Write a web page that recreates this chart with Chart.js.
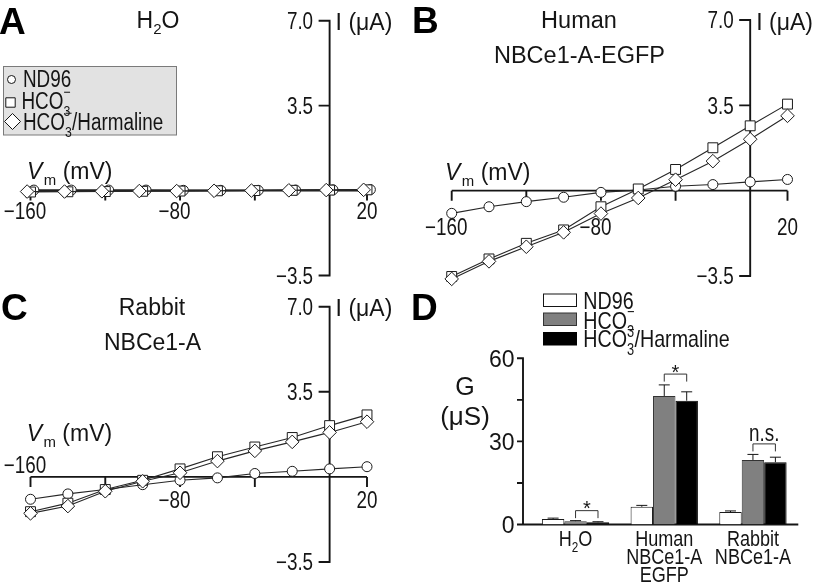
<!DOCTYPE html>
<html><head><meta charset="utf-8">
<script src="https://cdn.jsdelivr.net/npm/chart.js@4.4.1/dist/chart.umd.min.js"></script>
<style>
html,body{margin:0;padding:0;background:#fff;}
body{width:815px;height:584px;position:relative;overflow:hidden;}
canvas{position:absolute;}
</style></head><body>
<canvas id="cA" width="410" height="290" style="left:0;top:0"></canvas>
<canvas id="cB" width="405" height="290" style="left:410px;top:0"></canvas>
<canvas id="cC" width="410" height="294" style="left:0;top:290px"></canvas>
<canvas id="cD" width="405" height="294" style="left:410px;top:290px"></canvas>
<script>
// ---------------- DATA ----------------
const voltages = [-160,-140,-120,-100,-80,-60,-40,-20,0,20];          // mV
// panel A: measured voltages of the markers are slightly offset
const A_voltsNd96 = [-158.2,-138.2,-118.2,-98.2,-78.2,-58.2,-38.2,-18.2,1.8,21.8];
const A_voltsHarm = [-161.8,-141.8,-121.8,-101.8,-81.8,-61.8,-41.8,-21.8,-1.8,18.2];
const A_nd96 = [0.02,0.02,0.02,0.02,0.01,0.01,0.01,0.02,0.03,0.04];   // μA
const A_hco3 = [-0.06,-0.05,-0.04,-0.03,-0.02,-0.01,0.0,0.01,0.02,0.03];
const A_harm = [-0.04,-0.04,-0.03,-0.02,-0.02,-0.01,0.0,0.01,0.02,0.03];

const B_nd96 = [-0.93,-0.66,-0.45,-0.27,-0.07,0.03,0.18,0.25,0.36,0.46];
const B_hco3 = [-3.52,-2.80,-2.16,-1.61,-0.66,0.07,0.87,1.76,2.66,3.55];
const B_harm = [-3.62,-2.90,-2.30,-1.71,-0.94,-0.30,0.45,1.21,2.11,3.07];

const C_nd96 = [-0.92,-0.70,-0.52,-0.32,-0.14,-0.04,0.14,0.23,0.33,0.42];
const C_hco3 = [-1.43,-1.08,-0.52,-0.14,0.33,0.83,1.23,1.62,2.11,2.55];
const C_harm = [-1.50,-1.20,-0.59,-0.18,0.17,0.65,1.07,1.44,1.83,2.27];

const ivXTicks = [-160,-120,-80,-40,0,20];
const ivXTickLabels = {'-160':'−160','-80':'−80','20':'20'};
const ivYTicks = [7.0,3.5,-3.5];
const ivYTickLabels = ['7.0','3.5','−3.5'];

const D_categories = [['H2O'],['Human','NBCe1-A','EGFP'],['Rabbit','NBCe1-A']];
const D_nd96 = [2.0, 6.4, 4.5];          // μS
const D_hco3 = [1.2, 46.4, 23.3];
const D_harm = [0.8, 44.7, 22.5];
const D_nd96Err = [0.3, 0.5, 0.4];
const D_hco3Err = [0.2, 4.0, 2.0];
const D_harmErr = [0.2, 3.2, 1.8];
const D_sigLabels = ['*','*','n.s.'];
const D_sigLevel = [5.0, 54.3, 29.1];   // bracket level, μS
const D_yTicks = [0,15,30,45,60];
const D_yTickLabels = {0:'0',30:'30',60:'60'};

// ---------------- TEXT HELPERS ----------------
const INK = '#151515';
function hasFont(name){
  const c = document.createElement('canvas').getContext('2d');
  const s = 'mmmmmmmmmmlli1234567890WQ';
  let diff = false;
  for (const fb of ['monospace','serif']) {
    c.font = '40px ' + fb; const a = c.measureText(s).width;
    c.font = '40px "' + name + '", ' + fb; const b = c.measureText(s).width;
    if (Math.abs(a-b) > 0.5) diff = true;
  }
  return diff;
}
const HAS_NARROW = hasFont('Liberation Sans Narrow');
function fam(n){ return (n && HAS_NARROW) ? '"Liberation Sans Narrow"' : '"Liberation Sans", Arial, Helvetica, sans-serif'; }
function sxOf(n){ return (n && !HAS_NARROW) ? 0.82 : 1; }
function F(size, o){ return (o.i?'italic ':'') + (o.b?'bold ':'') + size + 'px ' + fam(o.n); }
function T(str){ return [{t:str}]; }
const SEG_H2O = [{t:'H'},{t:'2',s:'sub'},{t:'O'}];
const SEG_HCO3 = [{t:'HCO'},{t:['3','−'],s:'stack'}];
const SEG_HCO3H = [{t:'HCO'},{t:['3','−'],s:'stack'},{t:'/Harmaline'}];
const SEG_VM = [{t:'V',i:true},{t:'m',s:'sub'},{t:' (mV)'}];

function segWidths(ctx, segs, size, n, bold){
  const ss = size*0.65;
  return segs.map(sg=>{
    if(!sg.s){ ctx.font = F(size,{n,i:sg.i,b:bold}); return ctx.measureText(sg.t).width + (sg.i?1.5:0); }
    ctx.font = F(ss,{n});
    if(sg.s==='stack') return Math.max(ctx.measureText(sg.t[0]).width, ctx.measureText(sg.t[1]).width);
    return ctx.measureText(sg.t).width;
  });
}
function measureRich(ctx, segs, o){
  ctx.save();
  const w = segWidths(ctx, segs, o.size, !!o.narrow, o.bold).reduce((a,b)=>a+b,0);
  ctx.restore();
  return w * sxOf(!!o.narrow);
}
function drawRich(ctx, segs, x, y, o){
  const size = o.size, n = !!o.narrow, ss = size*0.65;
  ctx.save();
  ctx.translate(x,y); ctx.scale(sxOf(n),1);
  ctx.fillStyle = o.color || INK; ctx.textBaseline = 'alphabetic'; ctx.textAlign = 'left';
  const widths = segWidths(ctx, segs, size, n, o.bold);
  const W = widths.reduce((a,b)=>a+b,0);
  let cx = o.align==='center' ? -W/2 : (o.align==='right' ? -W : 0);
  const base = size*0.36;
  segs.forEach((sg,k)=>{
    if(!sg.s){ ctx.font = F(size,{n,i:sg.i,b:o.bold}); ctx.fillText(sg.t, cx, base); }
    else {
      ctx.font = F(ss,{n});
      if(sg.s==='sub') ctx.fillText(sg.t, cx, base + size*0.27);
      else if(sg.s==='sup') ctx.fillText(sg.t, cx, base - size*0.45);
      else { ctx.fillText(sg.t[0], cx, base + size*0.33); ctx.fillText(sg.t[1], cx, base - size*0.5); }
    }
    cx += widths[k];
  });
  ctx.restore();
}

// ---------------- IV PANELS ----------------
function ivPlugin(cfg){
  return {
    id: 'iv' + cfg.letter,
    beforeDatasetsDraw(chart){
      const ctx = chart.ctx, x = chart.scales.x, y = chart.scales.y;
      const x0 = x.getPixelForValue(0), y0 = y.getPixelForValue(0);
      ctx.save();
      ctx.strokeStyle = INK; ctx.lineWidth = 1.9;
      ctx.beginPath();
      ctx.moveTo(x.getPixelForValue(-160), y0); ctx.lineTo(x.getPixelForValue(20), y0);
      ivXTicks.forEach(v=>{ const p = x.getPixelForValue(v); ctx.moveTo(p, y0); ctx.lineTo(p, y0+10); });
      ctx.moveTo(x0, y.getPixelForValue(7)); ctx.lineTo(x0, y.getPixelForValue(-3.5));
      ivYTicks.forEach(v=>{ const p = y.getPixelForValue(v); ctx.moveTo(x0+0.9, p); ctx.lineTo(x0-11, p); });
      ctx.stroke();
      ctx.restore();
    },
    afterDraw(chart){
      const ctx = chart.ctx, x = chart.scales.x, y = chart.scales.y;
      const x0 = x.getPixelForValue(0), y0 = y.getPixelForValue(0);
      const tf = {size:23, narrow:true};
      ivYTicks.forEach((v,k)=>{
        drawRich(ctx, T(ivYTickLabels[k]), x0-16.5, y.getPixelForValue(v), Object.assign({align:'right'},tf));
      });
      drawRich(ctx, T('I (μA)'), x0+6, y.getPixelForValue(7)+1.5, {size:23, align:'left'});
      Object.keys(ivXTickLabels).forEach(key=>{
        const v = +key, lab = ivXTickLabels[key];
        const neg = lab.startsWith('−');
        const dW = measureRich(ctx, T(neg?lab.slice(1):lab), tf);
        const mW = neg ? measureRich(ctx, T('−'), tf) : 0;
        const px = x.getPixelForValue(v);
        const dy = (v===-160 && cfg.above160!==undefined) ? cfg.above160 : cfg.xLabDy;
        drawRich(ctx, T(lab), px - dW/2 - mW, y0 + dy, Object.assign({align:'left'},tf));
      });
      drawRich(ctx, SEG_VM, cfg.vm[0], cfg.vm[1], {size:23, align:'left'});
      cfg.titles.forEach(t=> drawRich(ctx, t.segs, t.x, t.y, {size:t.size||23, align:'center'}));
      drawRich(ctx, T(cfg.letter), cfg.letterPos[0], cfg.letterPos[1], {size:37, bold:true, align:'left', color:'#000'});
      if (cfg.legend) drawLegendA(ctx);
    }
  };
}
function drawMarker(ctx, kind, cx, cy, r){
  ctx.save();
  ctx.fillStyle = '#fff'; ctx.strokeStyle = INK; ctx.lineWidth = 1;
  ctx.beginPath();
  if (kind==='circle') ctx.arc(cx, cy, r, 0, Math.PI*2);
  else if (kind==='rect') ctx.rect(cx-r, cy-r, 2*r, 2*r);
  else { ctx.moveTo(cx-r, cy); ctx.lineTo(cx, cy-r); ctx.lineTo(cx+r, cy); ctx.lineTo(cx, cy+r); ctx.closePath(); }
  ctx.fill(); ctx.stroke();
  ctx.restore();
}
function drawLegendA(ctx){
  ctx.save();
  ctx.fillStyle = '#e2e2e2'; ctx.strokeStyle = '#7a7a7a'; ctx.lineWidth = 1;
  ctx.fillRect(3.5, 66.5, 173, 68.5); ctx.strokeRect(3.5, 66.5, 173, 68.5);
  ctx.restore();
  drawMarker(ctx, 'circle', 11.5, 79.5, 4);
  drawMarker(ctx, 'rect', 10.5, 102.5, 4.7);
  drawMarker(ctx, 'diamond', 12.5, 121.5, 8);
  const o = {size:23, narrow:true, align:'left'};
  drawRich(ctx, T('ND96'), 23, 78.5, o);
  drawRich(ctx, SEG_HCO3, 21.5, 100.5, o);
  drawRich(ctx, SEG_HCO3H, 23, 121.5, o);
}
function ivChart(id, xsNd, xsHco, xsHarm, nd, hco, harm, cfg){
  const common = {showLine:true, borderColor:'#262626', borderWidth:1.1, pointBackgroundColor:'#fff',
    pointBorderColor:'#1a1a1a', pointBorderWidth:1, clip:false, tension:0, fill:false};
  return new Chart(document.getElementById(id), {
    type: 'scatter',
    data: { datasets: [
      Object.assign({label:'HCO3−/Harmaline', data: xsHarm.map((v,i)=>({x:v, y:harm[i]})), pointStyle:'rectRot', pointRadius:6.8}, common),
      Object.assign({label:'HCO3−', data: xsHco.map((v,i)=>({x:v, y:hco[i]})), pointStyle:'rect', pointRadius:7}, common),
      Object.assign({label:'ND96', data: xsNd.map((v,i)=>({x:v, y:nd[i]})), pointStyle:'circle', pointRadius:5}, common)
    ]},
    options: {
      responsive:false, animation:false, events:[],
      layout:{padding:cfg.pad},
      scales:{ x:{type:'linear', min:-160, max:20, display:false}, y:{type:'linear', min:-3.5, max:7, display:false} },
      plugins:{ legend:{display:false}, tooltip:{enabled:false} }
    },
    plugins:[ivPlugin(cfg)]
  });
}

ivChart('cA', A_voltsNd96, voltages, A_voltsHarm, A_nd96, A_hco3, A_harm, {
  letter:'A', letterPos:[-1,21], pad:{left:30.5,right:43,top:20.7,bottom:14.5},
  titles:[{segs:SEG_H2O, x:158, y:20}], vm:[27,171], xLabDy:20, legend:true
});
ivChart('cB', voltages, voltages, voltages, B_nd96, B_hco3, B_harm, {
  letter:'B', letterPos:[2,20], pad:{left:41.7,right:27.5,top:20,bottom:14},
  titles:[{segs:T('Human'), x:169, y:20, size:23.5},{segs:T('NBCe1-A-EGFP'), x:169.5, y:55, size:23.5}],
  vm:[35,172], xLabDy:36
});
ivChart('cC', voltages, voltages, voltages, C_nd96, C_hco3, C_harm, {
  letter:'C', letterPos:[1,17], pad:{left:30.5,right:43,top:16.7,bottom:22},
  titles:[{segs:T('Rabbit'), x:152, y:17},{segs:T('NBCe1-A'), x:152.5, y:52}],
  vm:[26.7,143], xLabDy:23, above160:-12
});

// ---------------- BAR PANEL D ----------------
const dPlugin = {
  id:'panelD',
  beforeDatasetsDraw(chart){
    const ctx = chart.ctx, y = chart.scales.y, a = chart.chartArea;
    const ax = a.left - 8.2, y0 = y.getPixelForValue(0);
    ctx.save(); ctx.strokeStyle = INK; ctx.lineWidth = 1.9;
    ctx.beginPath();
    ctx.moveTo(ax, y.getPixelForValue(60)); ctx.lineTo(ax, y0);
    D_yTicks.forEach(v=>{ const p = y.getPixelForValue(v); ctx.moveTo(ax+0.9, p); ctx.lineTo(ax-6, p); });
    ctx.moveTo(ax, y0); ctx.lineTo(a.right+1, y0);
    ctx.stroke(); ctx.restore();
  },
  afterDatasetsDraw(chart){
    const ctx = chart.ctx, y = chart.scales.y;
    const vals = [D_nd96, D_hco3, D_harm], errs = [D_nd96Err, D_hco3Err, D_harmErr];
    ctx.save(); ctx.strokeStyle = INK; ctx.lineWidth = 1;
    vals.forEach((arr,d)=>{
      const meta = chart.getDatasetMeta(d);
      arr.forEach((v,i)=>{
        const bx = meta.data[i].x, top = y.getPixelForValue(v), et = y.getPixelForValue(v+errs[d][i]);
        ctx.beginPath(); ctx.moveTo(bx, top); ctx.lineTo(bx, et);
        ctx.moveTo(bx-5.5, et); ctx.lineTo(bx+5.5, et); ctx.stroke();
      });
    });
    const m1 = chart.getDatasetMeta(1), m2 = chart.getDatasetMeta(2);
    D_sigLevel.forEach((lv,i)=>{
      const g = m1.data[i].x, b = m2.data[i].x, yb = y.getPixelForValue(lv);
      ctx.strokeStyle = '#333';
      ctx.beginPath(); ctx.moveTo(g, yb+7.5); ctx.lineTo(g, yb); ctx.lineTo(b, yb); ctx.lineTo(b, yb+7.5); ctx.stroke();
      const lab = D_sigLabels[i];
      if (lab==='*') drawRich(ctx, T('*'), (g+b)/2, yb-7+0.215*20, {size:20, align:'center'});
      else drawRich(ctx, T(lab), (g+b)/2, yb-11.5, {size:23, narrow:true, align:'center'});
    });
    ctx.restore();
  },
  afterDraw(chart){
    const ctx = chart.ctx, y = chart.scales.y, a = chart.chartArea;
    const ax = a.left - 8.2, y0 = y.getPixelForValue(0);
    Object.keys(D_yTickLabels).forEach(k=>{
      drawRich(ctx, T(D_yTickLabels[k]), ax-8.5, y.getPixelForValue(+k), {size:23, align:'right'});
    });
    const m1 = chart.getDatasetMeta(1);
    D_categories.forEach((lines,i)=>{
      const cx = m1.data[i].x;
      lines.forEach((ln,j)=>{
        const segs = ln==='H2O' ? SEG_H2O : T(ln);
        drawRich(ctx, segs, cx, y0 + 14 + j*17.6, {size:22, narrow:true, align:'center'});
      });
    });
    drawRich(ctx, T('G'), 55, 95.5, {size:25, align:'center'});
    drawRich(ctx, T('(μS)'), 55, 126, {size:26, align:'center'});
    drawRich(ctx, T('D'), 1, 17, {size:37, bold:true, align:'left', color:'#000'});
    const sw = [['#fff', INK], ['#808080', '#333'], ['#000', '#000']];
    const ly = [4, 23, 42.5];
    ctx.save(); ctx.lineWidth = 1;
    sw.forEach((c,k)=>{ ctx.fillStyle = c[0]; ctx.strokeStyle = c[1]; ctx.fillRect(133.5, ly[k], 33, 12.5); ctx.strokeRect(133.5, ly[k], 33, 12.5); });
    ctx.restore();
    const o = {size:24, narrow:true, align:'left'};
    drawRich(ctx, T('ND96'), 173.3, 10, o);
    drawRich(ctx, SEG_HCO3, 173.3, 30, o);
    drawRich(ctx, SEG_HCO3H, 173.3, 48.5, o);
  }
};
new Chart(document.getElementById('cD'), {
  type:'bar',
  data:{ labels: D_categories.map(l=>l.join(' ')), datasets:[
    {label:'ND96', data:D_nd96, backgroundColor:'#ffffff', borderColor:'#1a1a1a', borderWidth:1},
    {label:'HCO3−', data:D_hco3, backgroundColor:'#808080', borderColor:'#333333', borderWidth:1},
    {label:'HCO3−/Harmaline', data:D_harm, backgroundColor:'#000000', borderColor:'#000000', borderWidth:1}
  ]},
  options:{
    responsive:false, animation:false, events:[],
    layout:{padding:{left:121.2, right:17.7, top:68.3, bottom:59.5}},
    datasets:{bar:{barPercentage:1, categoryPercentage:0.759}},
    scales:{ x:{display:false}, y:{min:0, max:60, display:false} },
    plugins:{ legend:{display:false}, tooltip:{enabled:false} }
  },
  plugins:[dPlugin]
});
</script>
</body></html>
